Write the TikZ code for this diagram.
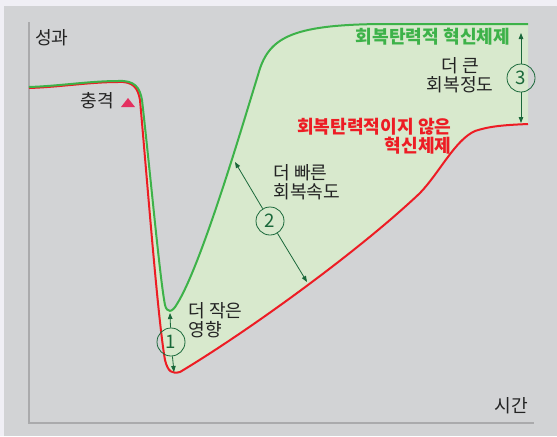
\documentclass[tikz,border=0pt]{standalone}
\usepackage{fontspec}
\setmainfont{Noto Sans CJK KR}
\usetikzlibrary{arrows.meta}

\definecolor{outerbg}{RGB}{240,239,245}
\definecolor{panelgray}{RGB}{210,211,213}
\definecolor{axisgray}{RGB}{170,170,172}
\definecolor{gapfill}{RGB}{216,233,205}
\definecolor{resgreen}{RGB}{61,178,73}
\definecolor{nonresred}{RGB}{237,28,36}
\definecolor{darkgreen}{RGB}{26,104,58}
\definecolor{shockpink}{RGB}{228,48,96}
\definecolor{textgray}{RGB}{35,35,35}

\tikzset{every picture/.style={line width=0.75pt}}
\tikzset{
  lbl/.style={inner sep=0.75pt, text=textgray, font=\fontsize{13.6}{14.3}\selectfont},
  numcirc/.style={circle, draw=darkgreen, line width=0.6, minimum size=21pt, inner sep=0pt, text=darkgreen, font=\fontsize{14}{14}\selectfont},
  pointer/.style={draw=darkgreen, line width=0.6, -{Triangle[length=4.5pt,width=3.4pt]}}
}

\begin{document}
\begin{tikzpicture}[x=0.75pt,y=0.75pt,yscale=-1,xscale=1]
%set diagram left start at 0, and has height of 436
\fill [outerbg] (0,0) rectangle (557,436);

%Shape: Rectangle [panel]
\fill [panelgray] (4,6) rectangle (557,436);

%Shape: Gap between curves
\fill [gapfill] (142,100) .. controls (150,170) and (160,280) .. (165,305) .. controls (167,313) and (172,313) .. (177,304) .. controls (202,264) and (244,120) .. (258,75) .. controls (268,38) and (290,25) .. (380,24) -- (528,24) -- (528,124) .. controls (505,125) and (490,126) .. (475,131) .. controls (455,140) and (440,172) .. (420,193) .. controls (360,250) and (250,330) .. (180,372) .. controls (172,374) and (168,372) .. (165,360) .. controls (158,320) and (148,190) .. (140,100) -- cycle ;

%Straight Lines [axes]
\draw [color=axisgray, line width=1.5]  (29,22) -- (29,423) -- (534,423) ;

%Curve Lines [non-resilient]
\draw [color=nonresred, line width=1.5]  (29,88) .. controls (60,87) and (90,82) .. (118,82) .. controls (133,81) and (138,88) .. (140,100) .. controls (148,190) and (158,320) .. (165,360) .. controls (168,372) and (172,374) .. (180,372) .. controls (250,330) and (360,250) .. (420,193) .. controls (440,172) and (455,140) .. (475,131) .. controls (490,126) and (505,125) .. (528,124) ;
%Curve Lines [resilient]
\draw [color=resgreen, line width=1.5]  (29,87) .. controls (60,86) and (90,81) .. (118,81) .. controls (135,80) and (140,88) .. (142,100) .. controls (150,170) and (160,280) .. (165,305) .. controls (167,313) and (172,313) .. (177,304) .. controls (202,264) and (244,120) .. (258,75) .. controls (268,38) and (290,25) .. (380,24) -- (528,24) ;

%Shape: Triangle [shock marker]
\fill [shockpink] (121,107) -- (128,98) -- (135,107) -- cycle ;

% Text Node
\draw (52,38) node [lbl] (perf) {성과};
% Text Node
\draw (511,406) node [lbl] (time) {시간};
% Text Node
\draw (97,101) node [lbl] (shock) {충격};
% Text Node
\draw (433,37) node [lbl, text=resgreen, font=\fontsize{13.6}{14.3}\selectfont\bfseries] (resil) {회복탄력적 혁신체제};
% Text Node
\draw (453,136) node [lbl, anchor=east, align=right, text=nonresred, font=\fontsize{13.6}{14.3}\selectfont\bfseries] (nonresil) {회복탄력적이지 않은\\혁신체제};
% Text Node
\draw (460,75.5) node [lbl, align=center] (degree) {더 큰\\회복정도};
% Text Node
\draw (272,182.5) node [lbl, anchor=west, align=left] (speed) {더 빠른\\회복속도};
% Text Node
\draw (187,320.5) node [lbl, anchor=west, align=left] (impact) {더 작은\\영향};

% Number circles
\node [numcirc] (circ1) at (171,342) {1};
\node [numcirc] (circ2) at (270,221) {2};
\node [numcirc] (circ3) at (521,78) {3};

% Arrow ends
\coordinate (tip1up) at (170,313);
\coordinate (tip1dn) at (174,372);
\coordinate (tip2up) at (235,162);
\coordinate (tip2dn) at (307,282);
\coordinate (tip3up) at (521,33);
\coordinate (tip3dn) at (521,123);

%Straight Lines [pointers]
\draw [pointer] (circ1) -- (tip1up) ;
\draw [pointer] (circ1) -- (tip1dn) ;
\draw [pointer] (circ2) -- (tip2up) ;
\draw [pointer] (circ2) -- (tip2dn) ;
\draw [pointer] (circ3) -- (tip3up) ;
\draw [pointer] (circ3) -- (tip3dn) ;

\end{tikzpicture}
\end{document}
